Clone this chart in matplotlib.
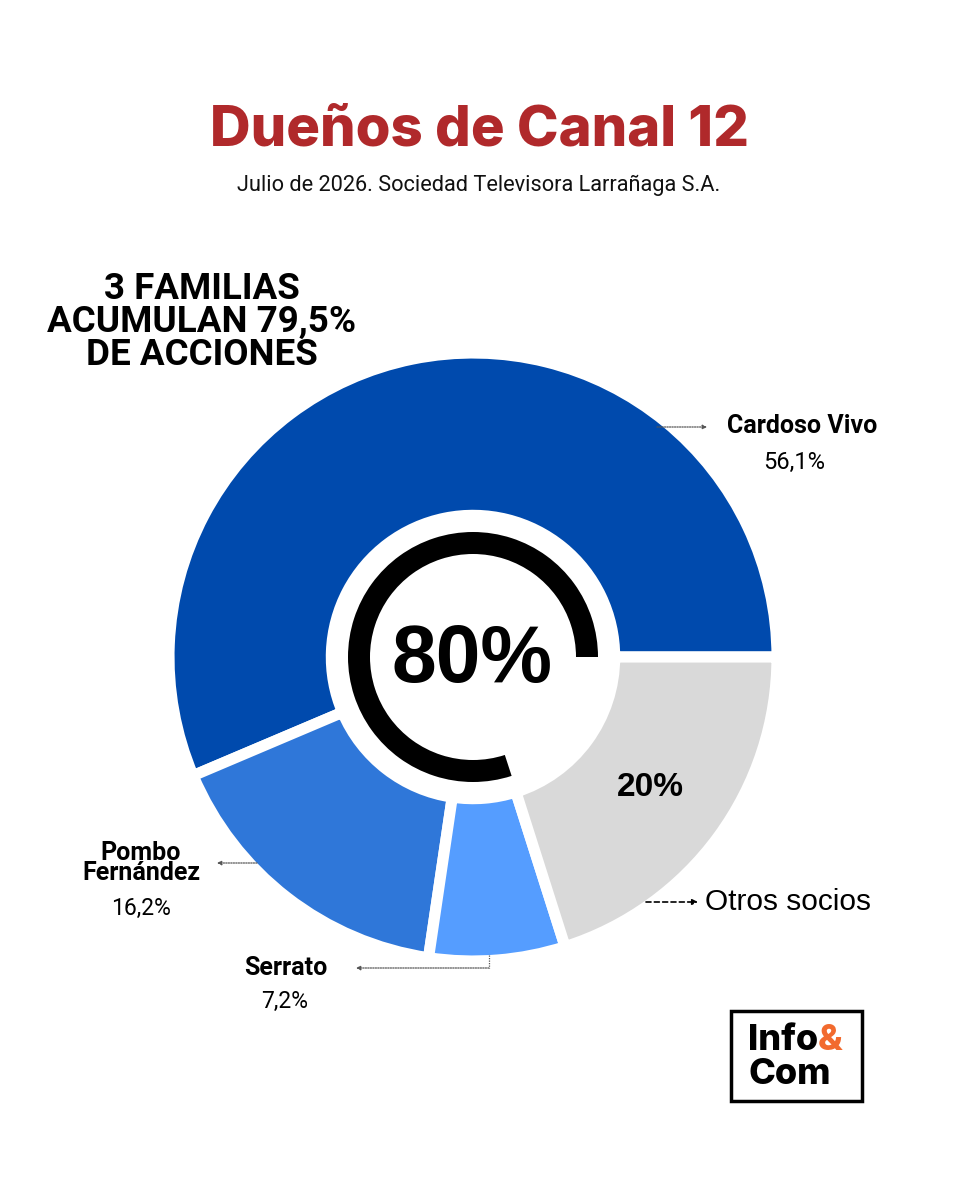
import matplotlib
matplotlib.use('Agg')
import matplotlib.pyplot as plt
from matplotlib.patches import Wedge, Rectangle

# data
owners = ['Cardoso Vivo', 'Pombo\nFernández', 'Serrato', 'Otros socios']
shares = [56.1, 16.2, 7.2, 20.0]
share_labels = ['56,1%', '16,2%', '7,2%', '20%']
colors = ['#004AAD', '#2F77D9', '#559DFF', '#D9D9D9']
gauge_value = 80  # % in hands of the three families (rounded)

title = 'Dueños de Canal 12'
subtitle = 'Julio de 2026. Sociedad Televisora Larrañaga S.A.'
headline = '3 FAMILIAS\nACUMULAN 79,5%\nDE ACCIONES'

W, H = 960, 1200
fig = plt.figure(figsize=(W / 100, H / 100), dpi=100)
fig.patch.set_facecolor('white')

# donut axes: centre (473, 657) px
cx, cy, R = 473, 657, 304
pax = fig.add_axes([(cx - R) / W, (H - cy - R) / H, 2 * R / W, 2 * R / H])
pax.pie(shares, colors=colors, startangle=0, counterclock=True, radius=1.0,
        wedgeprops=dict(width=0.534, edgecolor='white', linewidth=8))
pax.set_xlim(-1, 1)
pax.set_ylim(-1, 1)
pax.set_aspect('equal')
pax.axis('off')

# black gauge arc in the hole
pax.add_patch(Wedge((0, 0), 125 / R, 0, 360 * gauge_value / 100, width=22 / R,
                    facecolor='black', edgecolor='none'))

# overlay in pixel coordinates for the texts and leader lines
ax = fig.add_axes([0, 0, 1, 1])
ax.set_xlim(0, W)
ax.set_ylim(H, 0)
ax.axis('off')
ax.patch.set_alpha(0)

rob = ['Roboto', 'DejaVu Sans']
lib = ['Liberation Sans', 'DejaVu Sans']
inter = ['Inter', 'DejaVu Sans']

ax.text(480, 131, title, ha='center', va='center', fontsize=40.5,
        fontweight='heavy', color='#B0292B', family=inter)
ax.text(479, 185, subtitle, ha='center', va='center', fontsize=15.7,
        color='#111111', family=rob)
ax.text(202, 322, headline, ha='center', va='center', fontsize=26.5,
        fontweight='bold', color='black', family=rob, linespacing=0.9)

ax.text(472, 661, f'{gauge_value}%', ha='center', va='center', fontsize=58,
        fontweight='bold', color='black', family=lib)
ax.text(650, 788, share_labels[3], ha='center', va='center', fontsize=24,
        fontweight='bold', color='black', family=lib)

arrow_dot = dict(arrowstyle='-|>', color='#555555', lw=0.9, linestyle=(0, (1, 1)),
                 mutation_scale=6, shrinkA=0, shrinkB=0)

# Cardoso Vivo
ax.text(802, 426, owners[0], ha='center', va='center', fontsize=18,
        fontweight='bold', family=rob)
ax.text(794, 462, share_labels[0], ha='center', va='center', fontsize=17,
        family=rob)
ax.annotate('', xy=(707, 427), xytext=(657, 427), arrowprops=arrow_dot)

# Pombo Fernandez
ax.text(141, 863, owners[1], ha='center', va='center', fontsize=18,
        fontweight='bold', family=rob, linespacing=0.75)
ax.text(141, 908, share_labels[1], ha='center', va='center', fontsize=16.5,
        family=rob)
ax.annotate('', xy=(217, 863), xytext=(257, 863), arrowprops=arrow_dot)

# Serrato
ax.text(286, 968, owners[2], ha='center', va='center', fontsize=18,
        fontweight='bold', family=rob)
ax.text(285, 1001, share_labels[2], ha='center', va='center', fontsize=16.5,
        family=rob)
ax.plot([489, 489], [955, 968], color='#555555', lw=0.9, linestyle=(0, (1, 1)))
ax.annotate('', xy=(356, 968), xytext=(489, 968), arrowprops=arrow_dot)

# Otros socios
ax.text(705, 902, owners[3], ha='left', va='center', fontsize=21.5, family=lib)
ax.annotate('', xy=(698, 902), xytext=(646, 902),
            arrowprops=dict(arrowstyle='-|>', color='black', lw=1.2,
                            linestyle=(0, (3, 2)), mutation_scale=8,
                            shrinkA=0, shrinkB=0))

# logo
ax.add_patch(Rectangle((731, 1011), 131, 90, facecolor='white',
                       edgecolor='black', linewidth=2.5))
t_info = ax.text(748, 1040, 'Info', ha='left', va='center', fontsize=26,
                 fontweight='heavy', family=inter)
fig.canvas.draw()
bb = t_info.get_window_extent()
x_amp = ax.transData.inverted().transform((bb.x1, bb.y0))[0]
ax.text(x_amp, 1040, '&', ha='left', va='center', fontsize=26,
        fontweight='heavy', color='#F26A2E', family=inter)
ax.text(748, 1075, 'Com', ha='left', va='center', fontsize=26,
        fontweight='heavy', family=inter)

fig.savefig('out.png', dpi=100)
